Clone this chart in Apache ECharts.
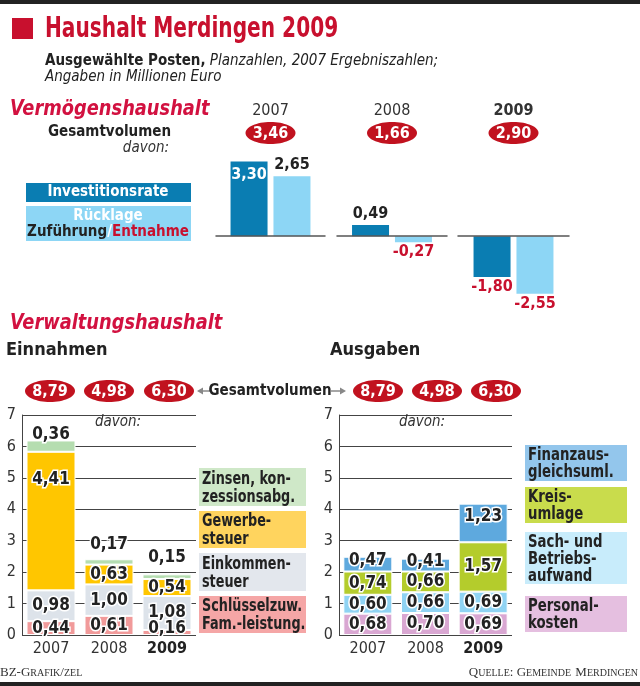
<!DOCTYPE html>
<html><head><meta charset="utf-8">
<script src="https://cdn.jsdelivr.net/npm/echarts@6/dist/echarts.min.js"></script>
<style>html,body{margin:0;padding:0;background:#fff}#c{width:640px;height:686px}</style>
</head><body><div id="c"></div>
<script>
// ---- data ----
const years = ['2007', '2008', '2009'];
const vhInvest = [3.30, 0.49, -1.80];
const vhRuecklage = [2.65, -0.27, -2.55];
const vhTotal = [3.46, 1.66, 2.90];
const einTotal = [8.79, 4.98, 6.30];
const ausTotal = [8.79, 4.98, 6.30];
const einSchluessel = [0.44, 0.61, 0.16];
const einEinkommen = [0.98, 1.00, 1.08];
const einGewerbe = [4.41, 0.63, 0.54];
const einZinsen = [0.36, 0.17, 0.15];
const ausPersonal = [0.68, 0.70, 0.69];
const ausSach = [0.60, 0.66, 0.69];
const ausKreis = [0.74, 0.66, 1.57];
const ausFinanz = [0.47, 0.41, 1.23];

// ---- style ----
const F = '"DejaVu Sans Condensed","Liberation Sans Narrow",Roboto,sans-serif';
const RED = '#c8102e', ELL = '#c1121f', DARK = '#0a7db2', LIGHT = '#8dd6f5';
const fmt = v => v.toFixed(2).replace('.', ',');

function T(text, x, y, o) {
  o = o || {};
  return {
    type: 'text', x: x, y: y, z: 100, scaleX: o.sx || 1,
    style: Object.assign({
      text: text, fill: o.c || '#222',
      font: (o.f || '') + ' ' + (o.w || 'normal') + ' ' + (o.s || 15) + 'px ' + F,
      textAlign: o.a || 'left', textVerticalAlign: 'middle', lineHeight: o.lh
    }, o.style || {})
  };
}
function ellipse(cx, cy, txt) {
  return [
    { type: 'ellipse', z: 90, shape: { cx: cx, cy: cy, rx: 25, ry: 11 }, style: { fill: ELL } },
    T(txt, cx, cy + 1, { c: '#fff', w: 'bold', s: 16, a: 'center' })
  ];
}
function box(x, y, w, h, color) {
  return { type: 'rect', z: 80, shape: { x: x, y: y, width: w, height: h }, style: { fill: color } };
}

const graphic = [];
graphic.push(box(0, 0, 640, 4, '#222'), box(0, 682, 640, 4, '#222'));
graphic.push(box(12, 18, 21, 21, RED));
graphic.push(T('Haushalt Merdingen 2009', 45, 30, { c: RED, w: 'bold', s: 28, sx: 0.8 }));
graphic.push(T('{b|Ausgewählte Posten,} {i|Planzahlen, 2007 Ergebniszahlen;}', 45, 61, {
  style: { rich: { b: { font: 'bold 15px ' + F, fill: '#222' }, i: { font: 'italic 15px ' + F, fill: '#222' } } }
}));
graphic.push(T('Angaben in Millionen Euro', 45, 77, { f: 'italic', s: 15 }));
graphic.push(T('Vermögenshaushalt', 10, 109, { c: '#d21140', w: 'bold', f: 'italic', s: 22, sx: 0.9 }));
graphic.push(T('Gesamtvolumen', 171, 132, { w: 'bold', s: 15, a: 'right' }));
graphic.push(T('davon:', 169, 148, { f: 'italic', s: 15, a: 'right', c: '#333' }));
const topCx = [270.5, 392, 513.5];
years.forEach((y, i) => {
  graphic.push(T(y, topCx[i], 111, { s: 16, a: 'center', w: i === 2 ? 'bold' : 'normal', c: '#333' }));
  graphic.push(...ellipse(topCx[i], 133, fmt(vhTotal[i])));
});
graphic.push(box(26, 183, 165, 19, DARK));
graphic.push(T('Investitionsrate', 108, 192, { c: '#fff', w: 'bold', s: 15, a: 'center' }));
graphic.push(box(26, 206, 165, 35, LIGHT));
graphic.push(T('Rücklage', 108, 216, { c: '#fff', w: 'bold', s: 15, a: 'center' }));
graphic.push(T('{k|Zuführung}{w|/}{r|Entnahme}', 108, 232, {
  a: 'center', style: { rich: { k: { font: 'bold 15px ' + F, fill: '#222' }, w: { font: 'bold 15px ' + F, fill: '#fff' }, r: { font: 'bold 15px ' + F, fill: RED } } }
}));

graphic.push(T('Verwaltungshaushalt', 10, 323, { c: '#d21140', w: 'bold', f: 'italic', s: 22, sx: 0.9 }));
graphic.push(T('Einnahmen', 6, 350, { w: 'bold', s: 18 }));
graphic.push(T('Ausgaben', 330, 350, { w: 'bold', s: 18 }));
const leftEll = [50, 109, 169], rightEll = [378, 437, 496];
years.forEach((y, i) => {
  graphic.push(...ellipse(leftEll[i], 391, fmt(einTotal[i])));
  graphic.push(...ellipse(rightEll[i], 391, fmt(ausTotal[i])));
});
graphic.push(T('Gesamtvolumen', 270, 391, { w: 'bold', s: 15, a: 'center' }));
graphic.push({ type: 'line', z: 90, shape: { x1: 201, y1: 391, x2: 211, y2: 391 }, style: { stroke: '#888', lineWidth: 1.5 } });
graphic.push({ type: 'polygon', z: 90, shape: { points: [[197, 391], [203, 387.5], [203, 394.5]] }, style: { fill: '#888' } });
graphic.push({ type: 'line', z: 90, shape: { x1: 331, y1: 391, x2: 341, y2: 391 }, style: { stroke: '#888', lineWidth: 1.5 } });
graphic.push({ type: 'polygon', z: 90, shape: { points: [[346, 391], [340, 387.5], [340, 394.5]] }, style: { fill: '#888' } });
graphic.push(T('davon:', 118, 422, { f: 'italic', s: 15, a: 'center', c: '#333' }));
graphic.push(T('davon:', 422, 422, { f: 'italic', s: 15, a: 'center', c: '#333' }));

// legends bottom-left
const LL = [
  ['Zinsen, kon-\nzessionsabg.', 468, 38, '#cfe8c8'],
  ['Gewerbe-\nsteuer', 511, 37, '#ffd45e'],
  ['Einkommen-\nsteuer', 553, 38, '#e3e7ed'],
  ['Schlüsselzuw.\nFam.-leistung.', 596, 37, '#f5a6a6']
];
LL.forEach(l => {
  graphic.push(box(199, l[1], 107, l[2], l[3]));
  graphic.push(T(l[0], 202, l[1] + l[2] / 2 + 1, { w: 'bold', s: 18, lh: 18, sx: 0.79 }));
});
const RL = [
  ['Finanzaus-\ngleichsuml.', 445, 36, '#93c6ec'],
  ['Kreis-\numlage', 487, 36, '#c9dc4c'],
  ['Sach- und\nBetriebs-\naufwand', 532, 52, '#c8ecfb'],
  ['Personal-\nkosten', 596, 36, '#e5bfe0']
];
RL.forEach(l => {
  graphic.push(box(525, l[1], 102, l[2], l[3]));
  graphic.push(T(l[0], 528, l[1] + l[2] / 2 + 1, { w: 'bold', s: 18, lh: 17, sx: 0.82 }));
});
graphic.push(T('{a|BZ-G}{b|RAFIK}{a|/}{b|ZEL}', 0, 673, {
  style: { rich: { a: { font: '13px "Liberation Serif",serif', fill: '#333' }, b: { font: '10px "Liberation Serif",serif', fill: '#333' } } }
}));
graphic.push(T('{a|Q}{b|UELLE}{a|: G}{b|EMEINDE} {a|M}{b|ERDINGEN}', 638, 673, {
  a: 'right',
  style: { rich: { a: { font: '13px "Liberation Serif",serif', fill: '#333' }, b: { font: '10px "Liberation Serif",serif', fill: '#333' } } }
}));

// ---- axes & series ----
const grid = [], xAxis = [], yAxis = [], series = [];
const topGrid = [[216, 109], [337, 110], [458, 111]];
topGrid.forEach((g, i) => {
  grid.push({ left: g[0], width: g[1], top: 157, height: 138 });
  xAxis.push({ gridIndex: i, type: 'category', data: [years[i]], axisLine: { onZero: true, lineStyle: { color: '#555', width: 1.5 } }, axisTick: { show: false }, axisLabel: { show: false }, z: 5 });
  yAxis.push({ gridIndex: i, type: 'value', min: -2.6, max: 3.5, show: false });
});
const lblBase = { show: true, fontFamily: F, fontWeight: 'bold', fontSize: 16, formatter: p => fmt(p.value) };
function vhLabel(v, insideWhite) {
  if (insideWhite) return Object.assign({}, lblBase, { position: 'insideTop', distance: 5, color: '#fff' });
  if (v >= 0) return Object.assign({}, lblBase, { position: 'top', distance: 3, color: '#222' });
  return Object.assign({}, lblBase, { position: 'bottom', distance: 2, color: RED });
}
years.forEach((y, i) => {
  series.push({ type: 'bar', xAxisIndex: i, yAxisIndex: i, barWidth: 37, barGap: '16%',
    itemStyle: { color: DARK }, data: [{ value: vhInvest[i], label: vhLabel(vhInvest[i], i === 0) }] });
  series.push({ type: 'bar', xAxisIndex: i, yAxisIndex: i, barWidth: 37, barGap: '16%',
    itemStyle: { color: LIGHT }, data: [{ value: vhRuecklage[i], label: vhLabel(vhRuecklage[i], false) }] });
});

function bottomAxes(idx, left, width) {
  grid.push({ left: left, width: width, top: 415, height: 220 });
  xAxis.push({ gridIndex: idx, type: 'category', data: years, axisLine: { show: false }, axisTick: { show: false },
    axisLabel: { interval: 0, fontFamily: F, fontSize: 16, color: '#333', margin: 6,
      formatter: v => v === '2009' ? '{b|' + v + '}' : v,
      rich: { b: { fontFamily: F, fontWeight: 'bold', fontSize: 16, color: '#222' } } } });
  yAxis.push({ gridIndex: idx, type: 'value', min: 0, max: 7, interval: 1,
    axisLine: { show: true, lineStyle: { color: '#444', width: 1 } }, axisTick: { show: false },
    axisLabel: { fontFamily: F, fontSize: 16, color: '#333', margin: 6 },
    splitLine: { lineStyle: { color: '#444', width: 1 } } });
}
bottomAxes(3, 22, 174);
bottomAxes(4, 339, 173);

const segLabel = Object.assign({}, lblBase, { position: 'inside', fontSize: 17, color: '#222', textBorderColor: '#fff', textBorderWidth: 3 });
function stackSeries(idx, arr, color, stack, overrides) {
  series.push({ type: 'bar', xAxisIndex: idx, yAxisIndex: idx, stack: stack, barWidth: 49,
    itemStyle: { color: color, borderColor: '#fff', borderWidth: 1 }, label: segLabel,
    data: arr.map((v, i) => (overrides && overrides[i]) ? { value: v, label: Object.assign({}, segLabel, overrides[i]) } : v) });
}
stackSeries(3, einSchluessel, '#f19a9a', 'e', { 2: { offset: [0, -4] } });
stackSeries(3, einEinkommen, '#dde3ea', 'e');
stackSeries(3, einGewerbe, '#ffc600', 'e', { 0: { position: 'insideTop', distance: 19 } });
stackSeries(3, einZinsen, '#b5ddb0', 'e', { 0: { offset: [0, -12] }, 1: { position: 'top', distance: 6 }, 2: { position: 'top', distance: 8 } });
stackSeries(4, ausPersonal, '#d9a7d2', 'a');
stackSeries(4, ausSach, '#8fd3f3', 'a');
stackSeries(4, ausKreis, '#b4cc2c', 'a');
stackSeries(4, ausFinanz, '#5ea9de', 'a', { 0: { offset: [0, -4] }, 1: { offset: [0, -3] }, 2: { offset: [0, -6] } });

const chart = echarts.init(document.getElementById('c'), null, { renderer: 'canvas' });
chart.setOption({ animation: false, backgroundColor: '#fff', grid: grid, xAxis: xAxis, yAxis: yAxis, series: series, graphic: graphic });
</script></body></html>
